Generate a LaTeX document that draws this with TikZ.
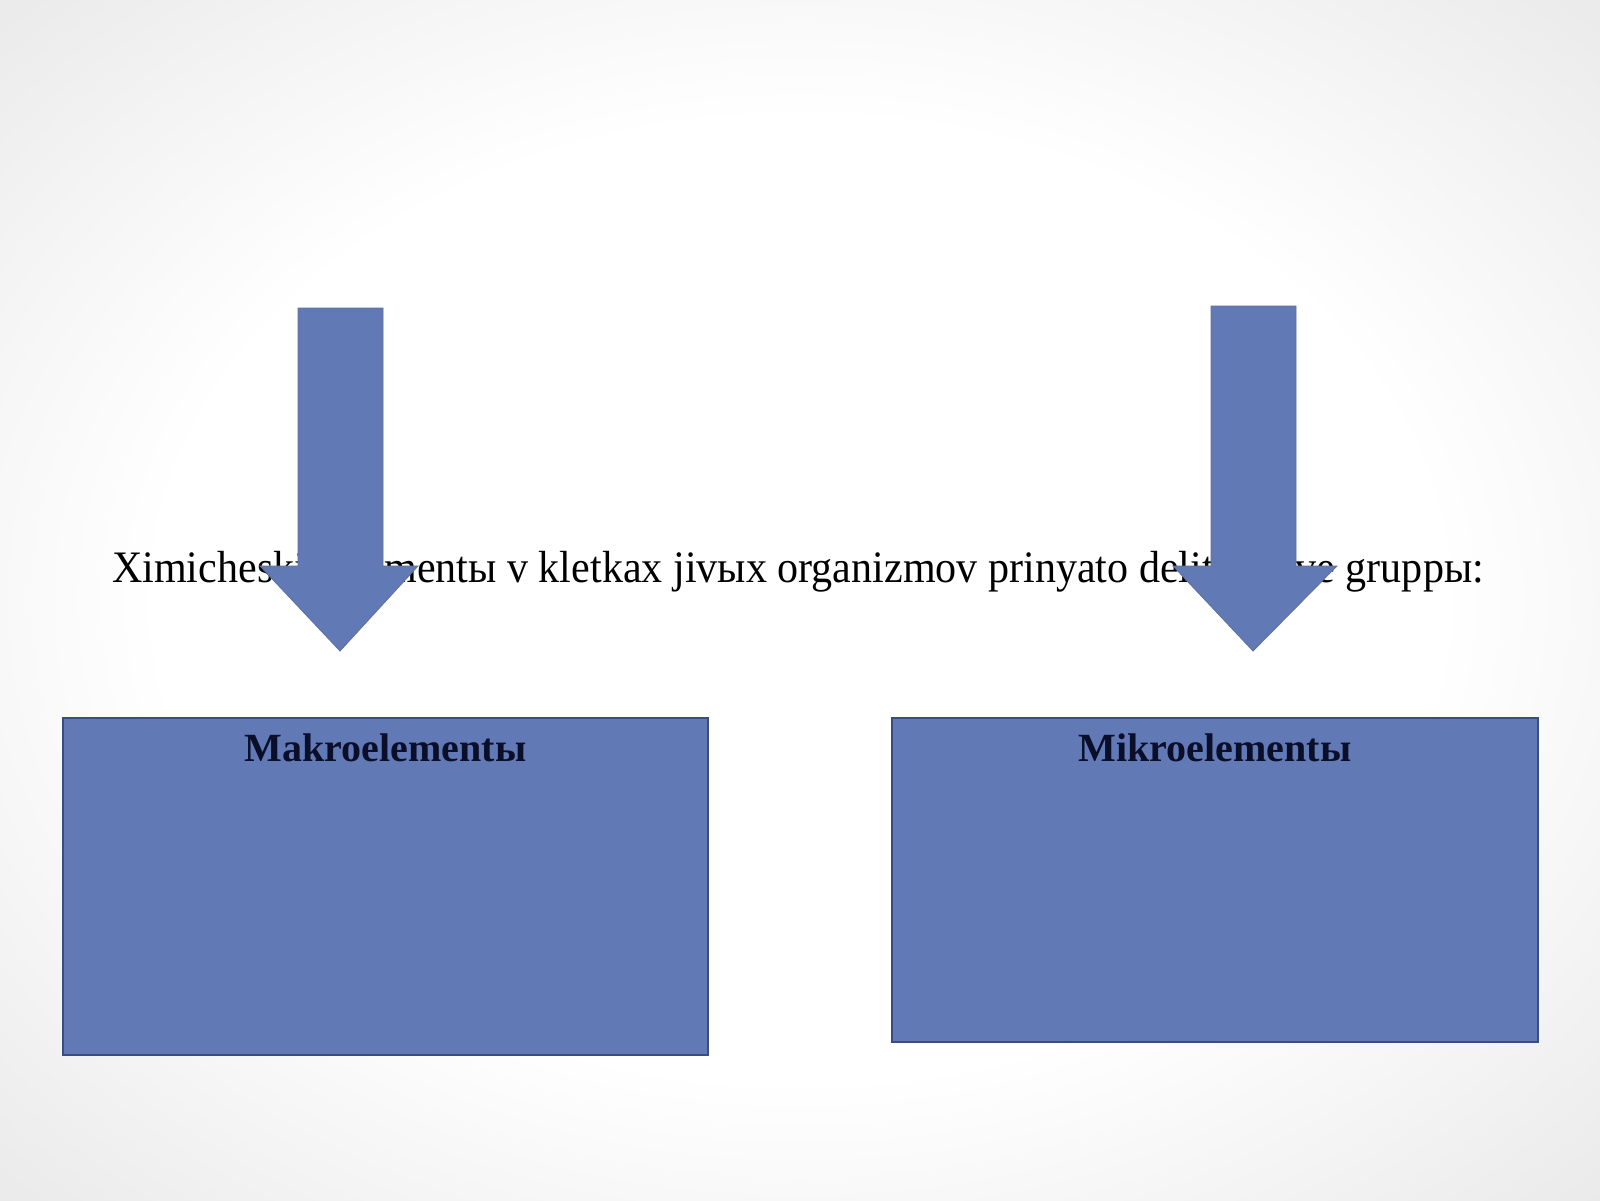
\documentclass[tikz,border=0pt]{standalone}
\usepackage{fontspec}
\setmainfont{Liberation Serif}
\definecolor{boxfill}{RGB}{97,121,181}
\definecolor{boxline}{RGB}{58,76,128}
\definecolor{labelcol}{RGB}{10,14,40}
\pgfdeclareradialshading{slidebg}{\pgfpoint{0bp}{0bp}}{color(0bp)=(white); color(20bp)=(white); color(35bp)=(black!8); color(50bp)=(black!14)}
\begin{document}
\begin{tikzpicture}[x=1pt,y=-1pt,
  bluebox/.style={fill=boxfill,draw=boxline,line width=1.5pt},
  bluearrow/.style={fill=boxfill,draw=boxline!80,line width=0.8pt,line join=miter},
  boxlabel/.style={font=\fontsize{40}{42}\selectfont\bfseries,text=labelcol,anchor=base,inner sep=0pt},
  maintext/.style={font=\fontsize{45}{50}\selectfont,text=black,anchor=base,inner sep=0pt}]
\shade[shading=slidebg] (0,0) rectangle (1600,1200);
\useasboundingbox (0,0) rectangle (1600,1200);
\node[maintext] (title) at (798,582) {\scalebox{0.935}[1]{Ximicheskie elementы v kletkax jivыx organizmov prinyato delit na dve gruppы:}};
% arrows
\draw[bluearrow] (298,308) -- (383,308) -- (383,566) -- (418,566) -- (340,651) -- (260,566) -- (298,566) -- cycle;
\draw[bluearrow] (1211,306) -- (1296,306) -- (1296,566) -- (1337,566) -- (1253,651) -- (1173,566) -- (1211,566) -- cycle;
% boxes
\draw[bluebox] (63,718) rectangle (708,1055);
\coordinate (makroC) at (385.5,761);
\node[boxlabel] (makro) at (makroC) {Makroelementы};
\draw[bluebox] (892,718) rectangle (1538,1042);
\coordinate (mikroC) at (1215,761);
\node[boxlabel] (mikro) at (mikroC) {Mikroelementы};
\end{tikzpicture}
\end{document}
